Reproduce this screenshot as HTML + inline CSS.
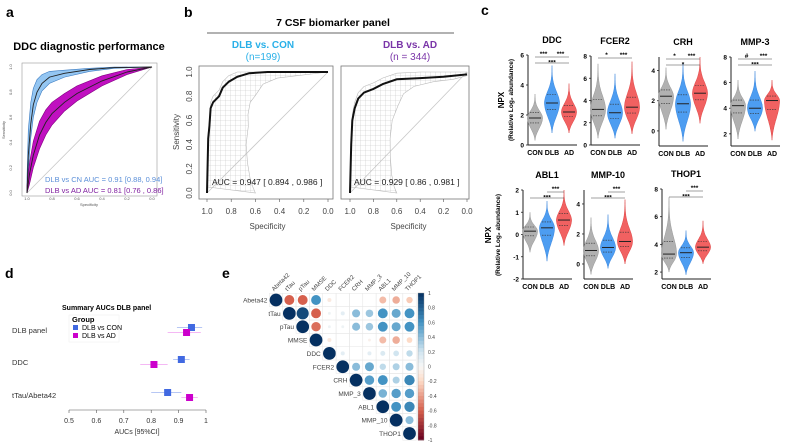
<!DOCTYPE html>
<html><head><meta charset="utf-8"><style>
body{margin:0;background:#fff;}
svg{display:block;font-family:"Liberation Sans",Arial,sans-serif;}
</style></head><body>
<svg id="fig" width="796" height="443" viewBox="0 0 796 443" xmlns="http://www.w3.org/2000/svg">
<defs>
<pattern id="gridpat" width="5" height="5" patternUnits="userSpaceOnUse"><path d="M0 0H5M0 0V5" stroke="#c4c4c4" stroke-width="0.6" fill="none"/></pattern>
</defs>
<text x="6" y="17" font-size="14" font-weight="bold">a</text>
<text x="184" y="17" font-size="14" font-weight="bold">b</text>
<text x="481" y="15" font-size="14" font-weight="bold">c</text>
<text x="5" y="278" font-size="14" font-weight="bold">d</text>
<text x="222" y="278" font-size="14" font-weight="bold">e</text>

<text x="89" y="50" font-size="11" font-weight="bold" text-anchor="middle">DDC diagnostic performance</text>
<text x="333" y="26" font-size="10.5" font-weight="bold" text-anchor="middle">7 CSF biomarker panel</text>
<line x1="207" y1="33" x2="454" y2="33" stroke="#333" stroke-width="0.8"/>
<text x="263" y="48" font-size="10" font-weight="bold" fill="#29b0e8" text-anchor="middle">DLB vs. CON</text>
<text x="263" y="60" font-size="10" fill="#29b0e8" text-anchor="middle">(n=199)</text>
<text x="410" y="48" font-size="10" font-weight="bold" fill="#7a35a8" text-anchor="middle">DLB vs. AD</text>
<text x="410" y="60" font-size="10" fill="#7a35a8" text-anchor="middle">(n = 344)</text>

<g id="pa"></g><g id="pb"></g><g id="pc"></g><g id="pd"></g><g id="pe"></g>
</svg>
<script>
const NS="http://www.w3.org/2000/svg";
function mk(p,tag,at,txt){const e=document.createElementNS(NS,tag);for(const k in at)e.setAttribute(k,at[k]);if(txt!==undefined)e.textContent=txt;p.appendChild(e);return e;}

// ---------- Panel a data ----------
const aSpec=[1,0.99,0.97,0.95,0.92,0.88,0.82,0.7,0.5,0.3,0];
const aConSens=[0,0.3,0.55,0.7,0.8,0.87,0.92,0.95,0.98,0.995,1];
const aConLo=[0,0.18,0.44,0.6,0.72,0.81,0.87,0.92,0.965,0.99,1];
const aConHi=[0.12,0.5,0.72,0.83,0.9,0.94,0.965,0.975,0.99,1,1];
const aAdSpec=[1,0.98,0.95,0.9,0.85,0.8,0.7,0.6,0.4,0.2,0];
const aAdSens=[0,0.15,0.3,0.46,0.56,0.63,0.72,0.79,0.89,0.96,1];
const aAdLo=[0,0.07,0.2,0.35,0.46,0.54,0.65,0.73,0.85,0.94,1];
const aAdHi=[0.06,0.24,0.41,0.57,0.66,0.72,0.79,0.85,0.93,0.98,1];
const aTicks=["1.0","0.8","0.6","0.4","0.2","0.0"];
const aTickVals=[1,0.8,0.6,0.4,0.2,0];

// ---------- Panel b data ----------
const bConSpec=[1,0.99,0.98,0.97,0.95,0.9,0.87,0.82,0.75,0.65,0.5,0];
const bConSens=[0,0.45,0.55,0.7,0.75,0.8,0.87,0.92,0.96,0.99,1,1];
const bConEnv=[0,0.05,0.12,0.25,0.4,0.55,0.65,0.75,0.8,0.9,0.95,1];
const bAdSpec=[1,0.99,0.98,0.96,0.93,0.88,0.8,0.72,0.6,0.4,0.2,0];
const bAdSens=[0,0.4,0.6,0.7,0.78,0.83,0.86,0.9,0.94,0.95,0.96,0.98];
const bAdEnv=[0,0.05,0.15,0.3,0.45,0.6,0.72,0.82,0.88,0.92,0.94,0.97];
const bAucLabels=["AUC = 0.947 [ 0.894 , 0.986 ]","AUC = 0.929 [ 0.86 , 0.981 ]"];

function roc(g,L,opt){
  const sx=v=>L.x1+(L.x0-L.x1)*v, sy=v=>L.y0+(L.y1-L.y0)*v;
  mk(g,'rect',{x:L.fx,y:L.fy,width:L.fw,height:L.fh,fill:'none',stroke:opt.frame||'#888','stroke-width':opt.fsw||1,});
  mk(g,'line',{x1:sx(1),y1:sy(0),x2:sx(0),y2:sy(1),stroke:'#c8c8c8','stroke-width':0.8,});
  return {sx,sy};
}
function pts(sx,sy,xs,ys){return xs.map((x,i)=>sx(x).toFixed(1)+','+sy(ys[i]).toFixed(1)).join(' ');}

(function(){
  const g=document.getElementById('pa');
  const L={fx:22,fy:63,fw:135,fh:133,x0:27,x1:152,y0:193,y1:67};
  const {sx,sy}=roc(g,L,{id:'panel-a',frame:'#999',fsw:0.6});
  mk(g,'polygon',{points:pts(sx,sy,aSpec,aConHi)+' '+pts(sx,sy,aSpec.slice().reverse(),aConLo.slice().reverse()),fill:'#94c6f2',stroke:'#3a7ac0','stroke-width':0.6,});
  mk(g,'polygon',{points:pts(sx,sy,aAdSpec,aAdHi)+' '+pts(sx,sy,aAdSpec.slice().reverse(),aAdLo.slice().reverse()),fill:'#c010c0',stroke:'#800080','stroke-width':0.6,});
  mk(g,'polyline',{points:pts(sx,sy,aSpec,aConSens),fill:'none',stroke:'#222','stroke-width':0.9,});
  mk(g,'polyline',{points:pts(sx,sy,aAdSpec,aAdSens),fill:'none',stroke:'#222','stroke-width':0.9,});
  aTickVals.forEach((v,i)=>{
    mk(g,'text',{x:sx(v),y:200,'font-size':4,'text-anchor':'middle',fill:'#555',},aTicks[i]);
    mk(g,'text',{x:12,y:sy(v),'font-size':4,'text-anchor':'middle',fill:'#555',transform:`rotate(-90 12 ${sy(v)})`,},aTicks[i]);
  });
  mk(g,'text',{x:89,y:206,'font-size':4,'text-anchor':'middle',fill:'#555',},'Specificity');
  mk(g,'text',{x:5,y:130,'font-size':4,'text-anchor':'middle',fill:'#555',transform:'rotate(-90 5 130)',},'Sensitivity');
  mk(g,'text',{x:45,y:182,'font-size':7.5,fill:'#5b8fd8',},'DLB vs CN AUC = 0.91 [0.88, 0.94]');
  mk(g,'text',{x:45,y:193,'font-size':7.5,fill:'#8020a0',},'DLB vs AD AUC = 0.81 [0.76 , 0.86]');
})();

(function(){
  const g=document.getElementById('pb');
  const Ls=[{fx:199,fy:66,fw:134,fh:133,x0:207,x1:328,y0:193,y1:72},{fx:341,fy:66,fw:128,fh:133,x0:350,x1:467,y0:193,y1:72}];
  const sets=[[bConSpec,bConSens,bConEnv],[bAdSpec,bAdSens,bAdEnv]];
  const tv=[1,0.8,0.6,0.4,0.2,0], tl=["1.0","0.8","0.6","0.4","0.2","0.0"];
  Ls.forEach((L,k)=>{
    const id=k?'roc-dlb-vs-ad':'roc-dlb-vs-con';
    const {sx,sy}=roc(g,L,{id:id,frame:'#777',fsw:0.8});
    const [sp,se,en]=sets[k];
    const envX=sp.map((s,i)=>Math.max(0,s-0.35*(1-i/(sp.length-1))-0.05));
    mk(g,'polygon',{points:pts(sx,sy,sp,se.map(v=>Math.min(1,v+0.05)))+' '+pts(sx,sy,envX.slice().reverse(),en.slice().reverse()),fill:'url(#gridpat)',stroke:'#bbb','stroke-width':0.6,});
    mk(g,'polyline',{points:pts(sx,sy,sp,se),fill:'none',stroke:'#111','stroke-width':2,});
    mk(g,'text',{x:L.fx+13,y:185,'font-size':8.5,fill:'#222',},bAucLabels[k]);
    tv.forEach((v,i)=>{
      mk(g,'line',{x1:sx(v),y1:L.fy+L.fh,x2:sx(v),y2:L.fy+L.fh+3,stroke:'#555','stroke-width':0.6,});
      mk(g,'text',{x:sx(v),y:214,'font-size':8,'text-anchor':'middle',fill:'#444',},tl[i]);
      if(k===0) mk(g,'text',{x:192,y:sy(tv[5-i]),'font-size':8,'text-anchor':'middle',fill:'#444',transform:`rotate(-90 192 ${sy(tv[5-i])})`,},tl[5-i]);
    });
    mk(g,'text',{x:(L.x0+L.x1)/2,y:229,'font-size':8,'text-anchor':'middle',fill:'#444',},'Specificity');
  });
  mk(g,'text',{x:179,y:132,'font-size':8,'text-anchor':'middle',fill:'#444',transform:'rotate(-90 179 132)',},'Sensitivity');
})();

// ---------- Panel c data ----------
const vNames=["DDC","FCER2","CRH","MMP-3","ABL1","MMP-10","THOP1"];
const vGroups=["CON","DLB","AD"];
const vMedCON=[1.8,3.2,2.3,4.2,0.15,0.9,3.3];
const vMedDLB=[2.8,2.9,1.8,4.0,0.3,1.1,3.4];
const vMedAD=[2.2,3.4,2.5,4.6,0.65,1.5,3.8];
const vMinCON=[0.3,0.6,0.1,1.6,-0.8,-0.7,2.0];
const vMinDLB=[0.8,0.6,-0.7,2.2,-1.2,-0.3,1.8];
const vMinAD=[0.8,1.0,0.5,1.5,-0.5,0.0,2.6];
const vMaxCON=[3.4,7.3,4.2,6.2,1.0,3.1,7.4];
const vMaxDLB=[5.3,6.4,4.5,6.9,1.5,3.3,5.0];
const vMaxAD=[4.1,7.5,4.9,6.2,2.0,4.3,5.7];
const vYmin=[0,0,-1,1.05,-2,-1,1.5];
const vYmax=[6,8,4.9,8,2,4.93,8];
const vTicks=[[0,2,4,6],[0,2,4,6,8],[0,2,4],[2,4,6,8],[-2,-1,0,1,2],[0,2,4],[2,4,6,8]];
const vSig=[["***","***","***"],["*","***",""],["*","***","*"],["#","***","***"],["","***","***"],["","***","***"],["","***","***"]];

(function(){
  const g=document.getElementById('pc');
  const lay=[{ax:528,top:55,bot:145},{ax:591,top:56,bot:145},{ax:659,top:57,bot:146},{ax:731,top:57,bot:146},
             {ax:523,top:190,bot:279},{ax:584,top:190,bot:279},{ax:662,top:189,bot:279}];
  const cols=[['#a8a8a8','#8a8a8a'],['#3a92f0','#2a7ad8'],['#f05050','#d83030']];
  vNames.forEach((nm,i)=>{
    const L=lay[i];
    const sy=v=>L.bot-(v-vYmin[i])/(vYmax[i]-vYmin[i])*(L.bot-L.top);
    const cx=[L.ax+7,L.ax+24,L.ax+41];
    const sub=mk(g,'g',{});
    mk(sub,'text',{x:L.ax+24,y:L.top-12,'font-size':9,'font-weight':'bold','text-anchor':'middle',},nm);
    mk(sub,'line',{x1:L.ax,y1:L.top,x2:L.ax,y2:L.bot,stroke:'#222','stroke-width':1,});
    mk(sub,'line',{x1:L.ax,y1:L.bot,x2:L.ax+49,y2:L.bot,stroke:'#222','stroke-width':1,});
    vTicks[i].forEach(t=>{
      mk(sub,'line',{x1:L.ax-2,y1:sy(t),x2:L.ax,y2:sy(t),stroke:'#222','stroke-width':0.8,});
      mk(sub,'text',{x:L.ax-4,y:sy(t)+2.5,'font-size':6.5,'font-weight':'bold','text-anchor':'end',},String(t));
    });
    const meds=[vMedCON[i],vMedDLB[i],vMedAD[i]], mins=[vMinCON[i],vMinDLB[i],vMinAD[i]], maxs=[vMaxCON[i],vMaxDLB[i],vMaxAD[i]];
    vGroups.forEach((gn,k)=>{
      const left=[],right=[];const N=36;
      for(let j=0;j<=N;j++){
        const v=mins[k]+(maxs[k]-mins[k])*j/N;
        const d=v<meds[k]?(v-meds[k])/(meds[k]-mins[k]):(v-meds[k])/(maxs[k]-meds[k]);
        const dd=v<meds[k]?d*1.6:d*2.4;
        const w=7*Math.exp(-dd*dd)*(1-Math.pow(Math.abs(d),4))+0.6*(1-Math.abs(d));
        left.push((cx[k]-w).toFixed(1)+','+sy(v).toFixed(1));right.unshift((cx[k]+w).toFixed(1)+','+sy(v).toFixed(1));
      }
      mk(sub,'polygon',{points:left.concat(right).join(' '),fill:cols[k][0],'fill-opacity':0.9,stroke:cols[k][1],'stroke-width':0.4,});
      mk(sub,'line',{x1:cx[k]-6,y1:sy(meds[k]),x2:cx[k]+6,y2:sy(meds[k]),stroke:'#222','stroke-width':1,});
      [-0.55,0.55].forEach(o=>{const q=meds[k]+o*(o<0?meds[k]-mins[k]:maxs[k]-meds[k])*0.4;
        mk(sub,'line',{x1:cx[k]-5,y1:sy(q),x2:cx[k]+5,y2:sy(q),stroke:'#333','stroke-width':0.6,'stroke-dasharray':'1.5,1',});});
      mk(sub,'text',{x:cx[k],y:L.bot+10,'font-size':7,'font-weight':'bold','text-anchor':'middle',},gn);
    });
    const s=vSig[i];
    const y1=L.top+2,y2=L.top+8;
    if(s[0]){mk(sub,'line',{x1:cx[0],y1:y1,x2:cx[1],y2:y1,stroke:'#444','stroke-width':0.6,});mk(sub,'text',{x:(cx[0]+cx[1])/2,y:y1-1,'font-size':6.5,'font-weight':'bold','text-anchor':'middle',},s[0]);}
    if(s[1]){mk(sub,'line',{x1:cx[1],y1:y1,x2:cx[2],y2:y1,stroke:'#444','stroke-width':0.6,});mk(sub,'text',{x:(cx[1]+cx[2])/2,y:y1-1,'font-size':6.5,'font-weight':'bold','text-anchor':'middle',},s[1]);}
    if(s[2]){mk(sub,'line',{x1:cx[0],y1:y2,x2:cx[2],y2:y2,stroke:'#444','stroke-width':0.6,});mk(sub,'text',{x:(cx[0]+cx[2])/2,y:y2+1.5,'font-size':6.5,'font-weight':'bold','text-anchor':'middle',},s[2]);}
  });
  [[100,533],[235,520]].forEach(([cy,x])=>{
    mk(g,'text',{x:x-29,y:cy,'font-size':8,'font-weight':'bold','text-anchor':'middle',transform:`rotate(-90 ${x-29} ${cy})`,},'NPX');
    mk(g,'text',{x:x-20,y:cy,'font-size':6.5,'font-weight':'bold','text-anchor':'middle',transform:`rotate(-90 ${x-20} ${cy})`,},'(Relative Log₂ abundance)');
  });
})();

// ---------- Panel d data ----------
const dRows=["DLB panel","DDC","tTau/Abeta42"];
const dConAuc=[0.947,0.91,0.86];
const dConLo=[0.894,0.88,0.80];
const dConHi=[0.986,0.94,0.91];
const dAdAuc=[0.929,0.81,0.94];
const dAdLo=[0.86,0.76,0.91];
const dAdHi=[0.981,0.86,0.97];
const dTicks=[0.5,0.6,0.7,0.8,0.9,1];
const dTickLabels=["0.5","0.6","0.7","0.8","0.9","1"];
(function(){
  const g=document.getElementById('pd');
  const sx=v=>69+(v-0.5)/0.5*137;
  const rowY=[330,362,395];
  mk(g,'text',{x:62,y:310,'font-size':7,'font-weight':'bold',},'Summary AUCs DLB panel');
  dRows.forEach((r,i)=>{
    mk(g,'text',{x:12,y:rowY[i]+3,'font-size':7.5,fill:'#333',},r);
    const yc=rowY[i]-2.5, ya=rowY[i]+2.5;
    mk(g,'line',{x1:sx(dConLo[i]),y1:yc,x2:sx(dConHi[i]),y2:yc,stroke:'#9fb4f0','stroke-width':0.8,});
    mk(g,'line',{x1:sx(dAdLo[i]),y1:ya,x2:sx(dAdHi[i]),y2:ya,stroke:'#f0a0f0','stroke-width':0.8,});
    mk(g,'rect',{x:sx(dConAuc[i])-3.5,y:yc-3.5,width:7,height:7,fill:'#4169e1',});
    mk(g,'rect',{x:sx(dAdAuc[i])-3.5,y:ya-3.5,width:7,height:7,fill:'#cc00cc',});
  });
  mk(g,'line',{x1:69,y1:410,x2:206,y2:410,stroke:'#555','stroke-width':0.6,});
  dTicks.forEach((t,i)=>{
    mk(g,'line',{x1:sx(t),y1:410,x2:sx(t),y2:413,stroke:'#555','stroke-width':0.6,});
    mk(g,'text',{x:sx(t),y:423,'font-size':7,'text-anchor':'middle',fill:'#333',},dTickLabels[i]);
  });
  mk(g,'text',{x:137,y:434,'font-size':7,'text-anchor':'middle',fill:'#333',},'AUCs [95%CI]');
  mk(g,'rect',{x:69,y:315,width:50,height:27,fill:'#fff',stroke:'#eee','stroke-width':0.5,});
  mk(g,'text',{x:72,y:322,'font-size':7.5,'font-weight':'bold',},'Group');
  mk(g,'rect',{x:73,y:325,width:5,height:5,fill:'#4169e1',});
  mk(g,'text',{x:82,y:330,'font-size':7,},'DLB vs CON');
  mk(g,'rect',{x:73,y:333,width:5,height:5,fill:'#cc00cc',});
  mk(g,'text',{x:82,y:338,'font-size':7,},'DLB vs AD');
})();

// ---------- Panel e data ----------
const eVars=["Abeta42","tTau","pTau","MMSE","DDC","FCER2","CRH","MMP_3","ABL1","MMP_10","THOP1"];
const eR0=[1,-0.6,-0.6,0.6,-0.1,0,0,0,-0.3,-0.35,-0.25];
const eR1=[1,0.9,-0.6,0.05,0.1,0.4,0.35,0.6,0.5,0.6];
const eR2=[1,-0.55,0.05,0.05,0.4,0.35,0.6,0.5,0.6];
const eR3=[1,-0.1,0,0,-0.05,-0.3,-0.35,-0.2];
const eR4=[1,0.1,0,0.1,0.15,0.2,0.25];
const eR5=[1,0.4,0.5,0.25,0.3,0.4];
const eR6=[1,0.55,0.6,0.3,0.65];
const eR7=[1,0.45,0.55,0.55];
const eR8=[1,0.6,0.65];
const eR9=[1,0.4];
const eR10=[1];
const eBarTicks=["1","0.8","0.6","0.4","0.2","0","-0.2","-0.4","-0.6","-0.8","-1"];
function rdbu(r){
  const stops=[[-1,[103,0,31]],[-0.6,[214,96,77]],[-0.2,[253,219,199]],[0,[247,247,247]],[0.2,[209,229,240]],[0.6,[67,147,195]],[1,[5,48,97]]];
  for(let i=0;i<stops.length-1;i++){const [a,ca]=stops[i],[b,cb]=stops[i+1];if(r<=b){const t=(r-a)/(b-a);return 'rgb('+ca.map((c,j)=>Math.round(c+(cb[j]-c)*t)).join(',')+')';}}
  return 'rgb(5,48,97)';
}
(function(){
  const g=document.getElementById('pe');
  const rows=[eR0,eR1,eR2,eR3,eR4,eR5,eR6,eR7,eR8,eR9,eR10];
  const st=13.35, x0=276, y0=300;
  rows.forEach((row,i)=>{
    row.forEach((r,k)=>{
      const j=i+k, cx=x0+j*st, cy=y0+i*st;
      mk(g,'rect',{x:cx-st/2,y:cy-st/2,width:st,height:st,fill:'none',stroke:'#e6e6e6','stroke-width':0.5,});
      if(Math.abs(r)>0.01) mk(g,'circle',{cx:cx,cy:cy,r:(st/2-0.3)*Math.sqrt(Math.abs(r)),fill:rdbu(r),});
    });
    mk(g,'text',{x:x0+i*st-st/2-2,y:y0+i*st+2.5,'font-size':6.5,'text-anchor':'end',fill:'#444',},eVars[i]);
    const tx=x0+i*st-2, ty=y0-st/2-2;
    mk(g,'text',{x:tx,y:ty,'font-size':6,fill:'#444',transform:`rotate(-45 ${tx} ${ty})`,},eVars[i]);
  });
  const bx=418,bt=293,bb=440;
  for(let i=0;i<40;i++){const r=1-2*i/40;mk(g,'rect',{x:bx,y:bt+(bb-bt)*i/40,width:6,height:(bb-bt)/40+0.4,fill:rdbu(r-1/40),});}
  mk(g,'rect',{x:bx,y:bt,width:6,height:bb-bt,fill:'none',stroke:'#999','stroke-width':0.4,});
  eBarTicks.forEach((t,i)=>{mk(g,'text',{x:bx+10,y:bt+(bb-bt)*i/10+2,'font-size':5,fill:'#444',},t);});
})();
</script>
</body></html>
